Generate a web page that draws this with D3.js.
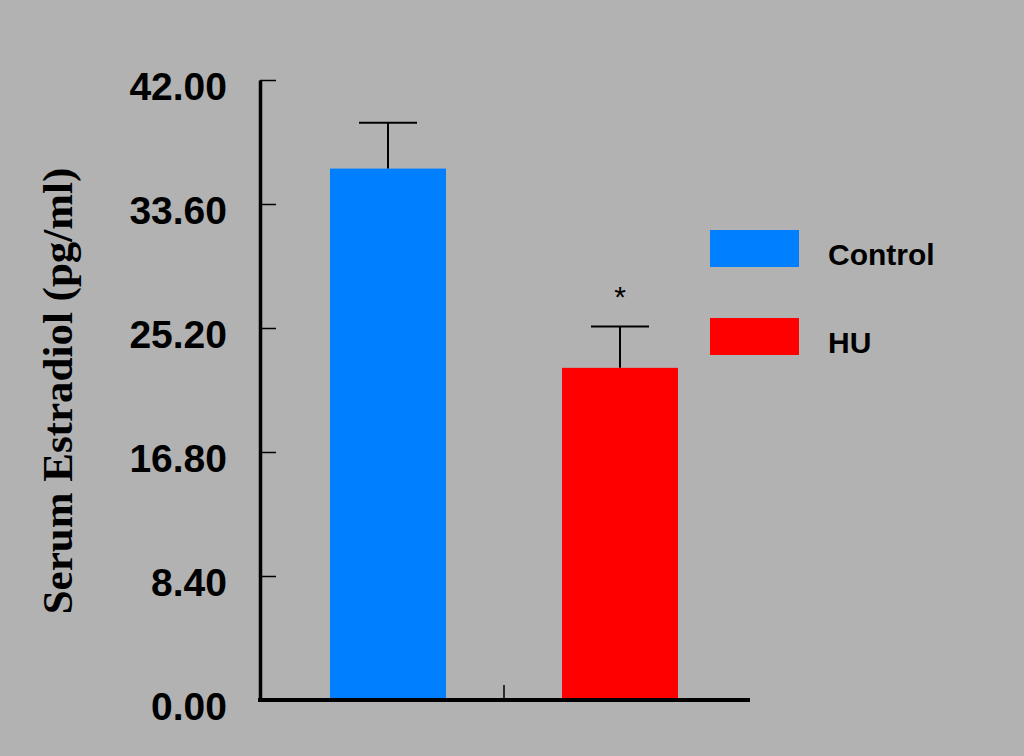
<!DOCTYPE html>
<html>
<head>
<meta charset="utf-8">
<script src="https://cdn.jsdelivr.net/npm/d3@7"></script>
<style>
  body { margin: 0; background: #b2b2b2; }
  svg { display: block; }
</style>
</head>
<body>
<svg id="chart" width="1024" height="756"></svg>
<script>
var groups = ["Control", "HU"];
var means = [36.0, 22.5];
var errTops = [39.1, 25.3];
var colors = ["#0080ff", "#ff0000"];
var yTicks = [0, 8.4, 16.8, 25.2, 33.6, 42];

(function EstradiolBars() {
    var svg = d3.select("#chart");

    svg.append("rect")
       .attr("width", 1024).attr("height", 756)
       .attr("fill", "#b2b2b2");

    var y = d3.scaleLinear().domain([0, 42]).range([700, 80]);
    var x = d3.scaleBand().domain(groups).range([272, 736])
              .paddingInner(0.5).paddingOuter(0.25);

    // y axis, ticks point inward
    var yAxis = d3.axisLeft(y)
                  .tickValues(yTicks)
                  .tickFormat(d3.format(".2f"))
                  .tickSizeInner(-16)
                  .tickSizeOuter(0)
                  .tickPadding(33);

    var gy = svg.append("g")
                .attr("transform", "translate(260,0)")
                .call(yAxis);
    gy.select(".domain").attr("stroke", "#000").attr("stroke-width", 3.5);
    gy.selectAll(".tick line").attr("stroke", "#000").attr("stroke-width", 1.5);
    gy.selectAll(".tick text")
      .attr("font-family", "Arial, 'Liberation Sans', sans-serif")
      .attr("font-weight", "bold")
      .attr("font-size", "39px")
      .attr("fill", "#000")
      .attr("dy", "0.5em");

    // bars
    var bar = svg.selectAll(".bar")
                 .data(groups)
                 .enter().append("g")
                 .attr("class", "bar");

    bar.append("rect")
       .attr("x", function(d) { return x(d); })
       .attr("y", function(d, i) { return y(means[i]); })
       .attr("width", x.bandwidth())
       .attr("height", function(d, i) { return y(0) - y(means[i]); })
       .attr("fill", function(d, i) { return colors[i]; });

    bar.append("line")
       .attr("x1", function(d) { return x(d) + x.bandwidth() / 2; })
       .attr("x2", function(d) { return x(d) + x.bandwidth() / 2; })
       .attr("y1", function(d, i) { return y(means[i]); })
       .attr("y2", function(d, i) { return y(errTops[i]); })
       .attr("stroke", "#000").attr("stroke-width", 2);

    bar.append("line")
       .attr("x1", function(d) { return x(d) + x.bandwidth() / 2 - 29; })
       .attr("x2", function(d) { return x(d) + x.bandwidth() / 2 + 29; })
       .attr("y1", function(d, i) { return y(errTops[i]); })
       .attr("y2", function(d, i) { return y(errTops[i]); })
       .attr("stroke", "#000").attr("stroke-width", 2);

    // significance mark
    svg.append("text")
       .attr("x", x("HU") + x.bandwidth() / 2)
       .attr("y", y(errTops[1]) - 20)
       .attr("text-anchor", "middle")
       .attr("font-family", "Arial, 'Liberation Sans', sans-serif")
       .attr("font-size", "30px")
       .text("*");

    // x axis line with a tick between groups
    svg.append("line")
       .attr("x1", 258).attr("x2", 750)
       .attr("y1", y(0)).attr("y2", y(0))
       .attr("stroke", "#000").attr("stroke-width", 4);

    var mid = x(groups[0]) + x.bandwidth() + (x.step() - x.bandwidth()) / 2;
    svg.append("line")
       .attr("x1", mid).attr("x2", mid)
       .attr("y1", y(0)).attr("y2", y(0) - 15)
       .attr("stroke", "#000").attr("stroke-width", 1.5);

    // y label
    svg.append("text")
       .attr("transform", "translate(57," + 391 + ") rotate(-90)")
       .attr("text-anchor", "middle")
       .attr("dominant-baseline", "central")
       .attr("font-family", "'Liberation Serif', 'Times New Roman', serif")
       .attr("font-weight", "bold")
       .attr("font-size", "43px")
       .text("Serum Estradiol (pg/ml)");

    // legend
    var legend = svg.selectAll(".legend")
                    .data(groups)
                    .enter().append("g")
                    .attr("class", "legend")
                    .attr("transform", function(d, i) { return "translate(710," + (230 + i * 88) + ")"; });

    legend.append("rect")
          .attr("width", 89).attr("height", 37)
          .attr("fill", function(d, i) { return colors[i]; });

    legend.append("text")
          .attr("x", 118).attr("y", 35)
          .attr("font-family", "Arial, 'Liberation Sans', sans-serif")
          .attr("font-weight", "bold")
          .attr("font-size", "30px")
          .text(function(d) { return d; });
}());
</script>
</body>
</html>
